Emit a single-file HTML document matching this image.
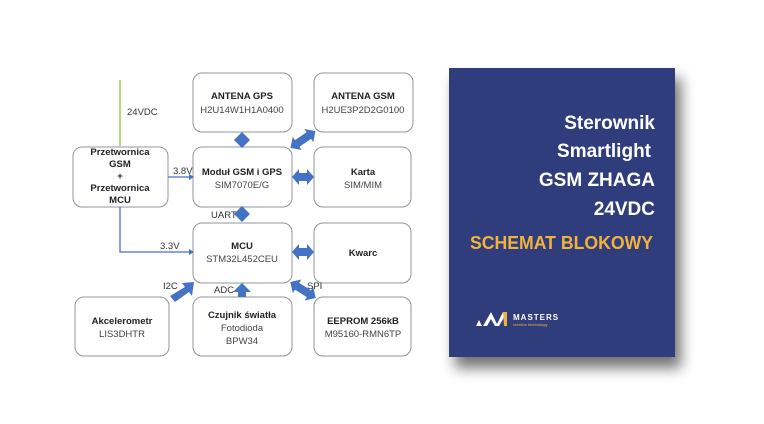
<!DOCTYPE html>
<html><head><meta charset="utf-8"><style>
html,body{margin:0;padding:0;background:#fff;}
svg{display:block;}
text{font-family:"Liberation Sans",sans-serif;}
</style></head><body>
<svg width="764" height="424" viewBox="0 0 764 424" xmlns="http://www.w3.org/2000/svg">
<defs>
<filter id="sh" x="-20%" y="-20%" width="150%" height="150%"><feGaussianBlur stdDeviation="7"/></filter>
<polygon id="da" points="-11,0 -4,-8 -4,-4 4,-4 4,-8 11,0 4,8 4,4 -4,4 -4,8" fill="#4472c4"/>
<polygon id="dl" points="-15,0 -7,-8 -7,-4 7,-4 7,-8 15,0 7,8 7,4 -7,4 -7,8" fill="#4472c4"/>
</defs>
<rect width="764" height="424" fill="#fff"/>
<g fill="#fff" stroke="#8f949c" stroke-width="1">
<rect x="193" y="73" width="99" height="59" rx="9"/>
<rect x="314" y="73" width="99" height="59" rx="9"/>
<rect x="73" y="147" width="95" height="60" rx="9"/>
<rect x="193" y="147" width="99" height="60" rx="9"/>
<rect x="314" y="147" width="97" height="60" rx="9"/>
<rect x="193" y="223" width="99" height="60" rx="9"/>
<rect x="314" y="223" width="97" height="60" rx="9"/>
<rect x="75" y="297" width="94" height="59" rx="9"/>
<rect x="193" y="297" width="99" height="59" rx="9"/>
<rect x="314" y="297" width="97" height="59" rx="9"/>
</g>
<line x1="120" y1="80" x2="120" y2="146" stroke="#92d050" stroke-width="1.5"/>
<g stroke="#4472c4" stroke-width="1.3" fill="none">
<line x1="168" y1="177" x2="193" y2="177"/>
<polyline points="120,207 120,252 193,252"/>
</g>
<g fill="#4472c4">
<polygon points="189,174 194,177 189,180"/>
<polygon points="189,249 194,252 189,255"/>
<polygon points="242,132 250,140 242,148 234,140"/>
<polygon points="242,206 250,214 242,222 234,214"/>
<polygon points="242,283 251,292 246,292 246,297 238,297 238,292 233,292"/>
</g>
<use href="#da" transform="translate(303,177)"/>
<use href="#da" transform="translate(303,252)"/>
<use href="#dl" transform="translate(303,139.5) rotate(-34)"/>
<use href="#dl" transform="translate(303,290) rotate(32)"/>
<polygon points="194,282 182,283 185,287 170,296 175,302 189,292 192,296" fill="#4472c4"/>
<g font-size="9.5" fill="#333">
<text x="127" y="115">24VDC</text>
<text x="173" y="174">3.8V</text>
<text x="160" y="249">3.3V</text>
<text x="211" y="218">UART</text>
<text x="163" y="289">I2C</text>
<text x="214" y="293">ADC</text>
<text x="307" y="289">SPI</text>
</g>
<g font-size="9.5" fill="#222" text-anchor="middle">
<text x="242" y="99" font-weight="bold">ANTENA GPS</text>
<text x="242" y="113" fill="#444">H2U14W1H1A0400</text>
<text x="363" y="99" font-weight="bold">ANTENA GSM</text>
<text x="363" y="113" fill="#444">H2UE3P2D2G0100</text>
<text x="120" y="155" font-weight="bold">Przetwornica</text>
<text x="120" y="167" font-weight="bold">GSM</text>
<text x="120" y="179" font-weight="bold">+</text>
<text x="120" y="191" font-weight="bold">Przetwornica</text>
<text x="120" y="203" font-weight="bold">MCU</text>
<text x="242" y="175" font-weight="bold">Moduł GSM i GPS</text>
<text x="242" y="188" fill="#444">SIM7070E/G</text>
<text x="363" y="175" font-weight="bold">Karta</text>
<text x="363" y="188" fill="#444">SIM/MIM</text>
<text x="242" y="249" font-weight="bold">MCU</text>
<text x="242" y="262" fill="#444">STM32L452CEU</text>
<text x="363" y="256" font-weight="bold">Kwarc</text>
<text x="122" y="324" font-weight="bold">Akcelerometr</text>
<text x="122" y="337" fill="#444">LIS3DHTR</text>
<text x="242" y="318" font-weight="bold">Czujnik światła</text>
<text x="242" y="331" fill="#444">Fotodioda</text>
<text x="242" y="344" fill="#444">BPW34</text>
<text x="363" y="324" font-weight="bold">EEPROM 256kB</text>
<text x="363" y="337" fill="#444">M95160-RMN6TP</text>
</g>
<rect x="455" y="78" width="226" height="290" fill="#000" opacity="0.55" filter="url(#sh)"/>
<rect x="449" y="68" width="226" height="289" fill="#2f3d7c"/>
<g fill="#fff" font-weight="bold" font-size="19" text-anchor="end">
<text x="655" y="129">Sterownik</text>
<text x="651" y="157">Smartlight</text>
<text x="655" y="186">GSM ZHAGA</text>
<text x="655" y="215">24VDC</text>
</g>
<text x="470" y="249" font-size="18" font-weight="bold" fill="#f2b33d" textLength="183" lengthAdjust="spacingAndGlyphs">SCHEMAT BLOKOWY</text>
<polygon points="476,326 479,320 482,326" fill="#fff"/>
<polygon points="483,326 491,312 497,324 503,312 507,312 499,326 495,326 491,319 487,326" fill="#fff"/>
<polygon points="503,312 507,312 507,326 504,326" fill="#f2b33d"/>
<text x="513" y="320" font-size="8" font-weight="bold" fill="#fff" letter-spacing="1">MASTERS</text>
<text x="513" y="326" font-size="4" fill="#f2b33d">creative technology</text>
</svg>
</body></html>
